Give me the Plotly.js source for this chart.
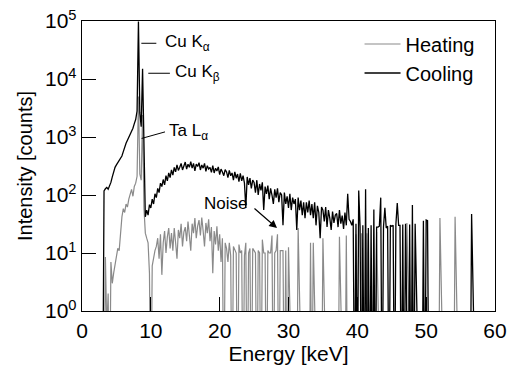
<!DOCTYPE html>
<html>
<head>
<meta charset="utf-8">
<script src="https://cdn.plot.ly/plotly-3.0.1.min.js"></script>
<style>html,body{margin:0;padding:0;background:#fff;}</style>
</head>
<body>
<div id="chart" style="width:511px;height:365px;"></div>
<script>
// Spectrum channels: 0.2 keV bins starting at 3.0 keV (counts are 0 below 3.0 keV)
const ENERGY_START = 3.0;
const BIN_WIDTH = 0.2;

// Cooling spectrum (counts), one row = 2 keV
const cooling = [
  0,118,128,135,126,142,165,205,250,300,          // 3.0-4.8
  330,360,395,430,470,560,690,780,880,990,        // 5.0-6.8
  1080,1230,1420,1700,2000,2800,98000,2600,1500,15000, // 7.0-8.8
  300,42,55,45,68,60,85,70,105,90,                // 9.0-10.8
  130,110,160,140,185,150,215,175,240,200,        // 11.0-12.8
  270,220,300,250,330,265,300,350,270,330,        // 13.0-14.8
  370,280,340,300,375,290,350,260,340,310,        // 15.0-16.8
  360,270,330,290,350,255,320,280,300,245,        // 17.0-18.8
  320,240,290,260,305,225,280,250,215,275,        // 19.0-20.8
  250,200,265,215,240,180,250,195,230,170,        // 21.0-22.8
  235,175,215,160,60,205,150,195,130,180,         // 23.0-24.8
  165,110,180,100,155,120,165,55,140,105,         // 25.0-26.8
  145,85,130,100,70,125,90,130,75,110,            // 27.0-28.8
  100,30,110,70,95,60,105,55,90,70,               // 29.0-30.8
  85,25,90,55,80,45,75,40,75,50,                  // 31.0-32.8
  80,45,70,40,75,30,65,50,18,62,                  // 33.0-34.8
  55,35,62,28,55,40,25,52,33,45,                  // 35.0-36.8
  48,28,55,32,44,26,50,30,105,38,                 // 37.0-38.8
  35,30,38,0,32,0,120,28,0,30,                    // 39.0-40.8
  0,126,0,27,0,30,0,56,0,28,                      // 41.0-42.8
  28,29,90,0,28,60,27,29,0,30,                    // 43.0-44.8
  29,30,0,31,73,30,30,0,31,0,                     // 45.0-46.8
  32,0,0,31,0,67,0,32,0,0,                        // 47.0-48.8
  0,0,0,36,0,37,36,0,0,0,                         // 49.0-50.8
  0,0,0,0,0,0,0,0,0,0,                            // 51.0-52.8
  0,0,0,0,0,0,0,0,0,0,                            // 53.0-54.8
  0,0,0,0,0,0,0,0,47,0,                           // 55.0-56.8
  0,0,0,0,0,0                                     // 57.0-58.0
];

// Heating spectrum (counts), same channels
const heating = [
  0,0,8.5,0.5,2,0,7,3,4.5,6,                      // 3.0-4.8
  8.5,12,11,25,42,58,50,70,62,85,                 // 5.0-6.8
  100,125,95,140,160,210,5000,230,180,2400,       // 7.0-8.8
  60,22,18,15,4.5,0,6,8.6,11,13,                  // 9.0-10.8
  18,8,21,4.2,15,24,10,19,27,12,                  // 11.0-12.8
  22,11,27,15,8,25,18,32,13,23,                   // 13.0-14.8
  28,16,35,20,11,32,22,40,18,29,                  // 15.0-16.8
  37,20,41,24,13,33,22,38,16,28,                  // 17.0-18.8
  4.5,24,14,29,11,21,7,18,0,15,                   // 19.0-20.8
  12,7,15,9,0,13,11,10,0,14,                      // 21.0-22.8
  10,11,0,9,15,0,10,12,0,12,                      // 23.0-24.8
  11,10,0,11,10,0,17,10,10,0,                     // 25.0-26.8
  11,10,10,20,0,10,11,21,0,11,                    // 27.0-28.8
  11,11,0,11,0,12.6,0,0,0,0,                      // 29.0-30.8
  0,0,27,0,0,0,0,0,0,0,                           // 31.0-32.8
  0,15,0,15,0,0,0,0,0,0,                          // 33.0-34.8
  18,0,0,0,0,0,0,0,0,0,                           // 35.0-36.8
  0,0,19,0,0,0,0,20,0,0,                          // 37.0-38.8
  0,0,0,0,21,0,0,0,22,0,                          // 39.0-40.8
  0,0,22,0,0,0,0,0,0,23,                          // 41.0-42.8
  0,0,0,0,0,0,0,0,0,0,                            // 43.0-44.8
  0,0,0,0,0,0,0,0,0,0,                            // 45.0-46.8
  0,33,0,0,0,0,0,0,0,0,                           // 47.0-48.8
  0,0,0,0,0,0,0,0,0,0,                            // 49.0-50.8
  0,0,0,0,0,40,0,0,0,0,                           // 51.0-52.8
  0,0,0,0,0,0,42,0,0,0,                           // 53.0-54.8
  0,0,0,0,0,0,0,0,0,0,                            // 55.0-56.8
  0,0,0,0,0,0                                     // 57.0-58.0
];

const seriesNames = ['Heating', 'Cooling'];
const xTickVals = [0, 10, 20, 30, 40, 50, 60];
const yTickVals = [1, 10, 100, 1000, 10000, 100000];
const yTickText = ['10<sup>0</sup>', '10<sup>1</sup>', '10<sup>2</sup>', '10<sup>3</sup>', '10<sup>4</sup>', '10<sup>5</sup>'];

const energy = cooling.map((_, i) => +(ENERGY_START + i * BIN_WIDTH).toFixed(1));
// zero counts cannot be shown on a log axis: draw them below the axis floor
const ZERO_FLOOR = 0.01;
const forLog = arr => arr.map(v => (v > 0 ? v : ZERO_FLOOR));

const FONT = 'Liberation Sans, Arial, Helvetica, sans-serif';

const traces = [
  {x: energy, y: forLog(heating), name: seriesNames[0], type: 'scatter', mode: 'lines',
   line: {color: '#8a8a8a', width: 1.2}},
  {x: energy, y: forLog(cooling), name: seriesNames[1], type: 'scatter', mode: 'lines',
   line: {color: '#000000', width: 1.3}}
];

const p10 = e => Math.pow(10, e);
const layout = {
  width: 511, height: 365,
  margin: {l: 82, r: 16, t: 21, b: 54, pad: 0},
  paper_bgcolor: '#ffffff', plot_bgcolor: '#ffffff',
  font: {family: FONT, size: 20, color: '#000'},
  showlegend: true,
  legend: {x: 0.672, y: 0.988, xanchor: 'left', yanchor: 'top', bgcolor: 'rgba(0,0,0,0)',
           font: {family: FONT, size: 20, color: '#000'}, tracegroupgap: 0, itemwidth: 36},
  xaxis: {range: [0, 60], tickmode: 'array', tickvals: xTickVals, ticks: 'inside', ticklen: 14, tickwidth: 1,
          tickcolor: '#000', showline: true, mirror: true, linecolor: '#000', linewidth: 1.3,
          showgrid: false, zeroline: false,
          tickfont: {family: FONT, size: 21, color: '#000'},
          title: {text: 'Energy [keV]', font: {family: FONT, size: 21, color: '#000'}}},
  yaxis: {type: 'log', range: [0, 5], tickmode: 'array', tickvals: yTickVals, ticktext: yTickText,
          ticks: 'inside', ticklen: 14, tickwidth: 1, tickcolor: '#000', showline: true, mirror: true,
          linecolor: '#000', linewidth: 1.3, showgrid: false, zeroline: false,
          tickfont: {family: FONT, size: 21, color: '#000'},
          title: {text: 'Intensity [counts]', font: {family: FONT, size: 20, color: '#000'}}},
  shapes: [
    {type: 'line', xref: 'x', yref: 'y', x0: 8.62, x1: 10.8, y0: p10(4.616), y1: p10(4.616), line: {color: '#000', width: 1}},
    {type: 'line', xref: 'x', yref: 'y', x0: 9.63, x1: 12.77, y0: p10(4.099), y1: p10(4.099), line: {color: '#000', width: 1}},
    {type: 'line', xref: 'x', yref: 'y', x0: 8.66, x1: 12.06, y0: p10(2.975), y1: p10(3.088), line: {color: '#000', width: 1}}
  ],
  annotations: [
    {xref: 'x', yref: 'y', x: 11.77, y: 4.616, text: 'Cu K<sub>α</sub>', showarrow: false,
     xanchor: 'left', yanchor: 'middle', font: {family: FONT, size: 17, color: '#000'}},
    {xref: 'x', yref: 'y', x: 13.22, y: 4.099, text: 'Cu K<sub>β</sub>', showarrow: false,
     xanchor: 'left', yanchor: 'middle', font: {family: FONT, size: 17, color: '#000'}},
    {xref: 'x', yref: 'y', x: 12.35, y: 3.088, text: 'Ta L<sub>α</sub>', showarrow: false,
     xanchor: 'left', yanchor: 'middle', font: {family: FONT, size: 17, color: '#000'}},
    {xref: 'x', yref: 'y', x: 20.85, y: 1.852, text: 'Noise', showarrow: false,
     xanchor: 'center', yanchor: 'middle', font: {family: FONT, size: 17, color: '#000'}},
    {xref: 'x', yref: 'y', x: 28.33, y: 1.43, axref: 'x', ayref: 'y', ax: 24.84, ay: 1.79,
     text: '', showarrow: true, arrowhead: 2, arrowsize: 1.3, arrowwidth: 1.2, arrowcolor: '#000'}
  ]
};

Plotly.newPlot('chart', traces, layout, {staticPlot: true, displayModeBar: false});
</script>
</body>
</html>
